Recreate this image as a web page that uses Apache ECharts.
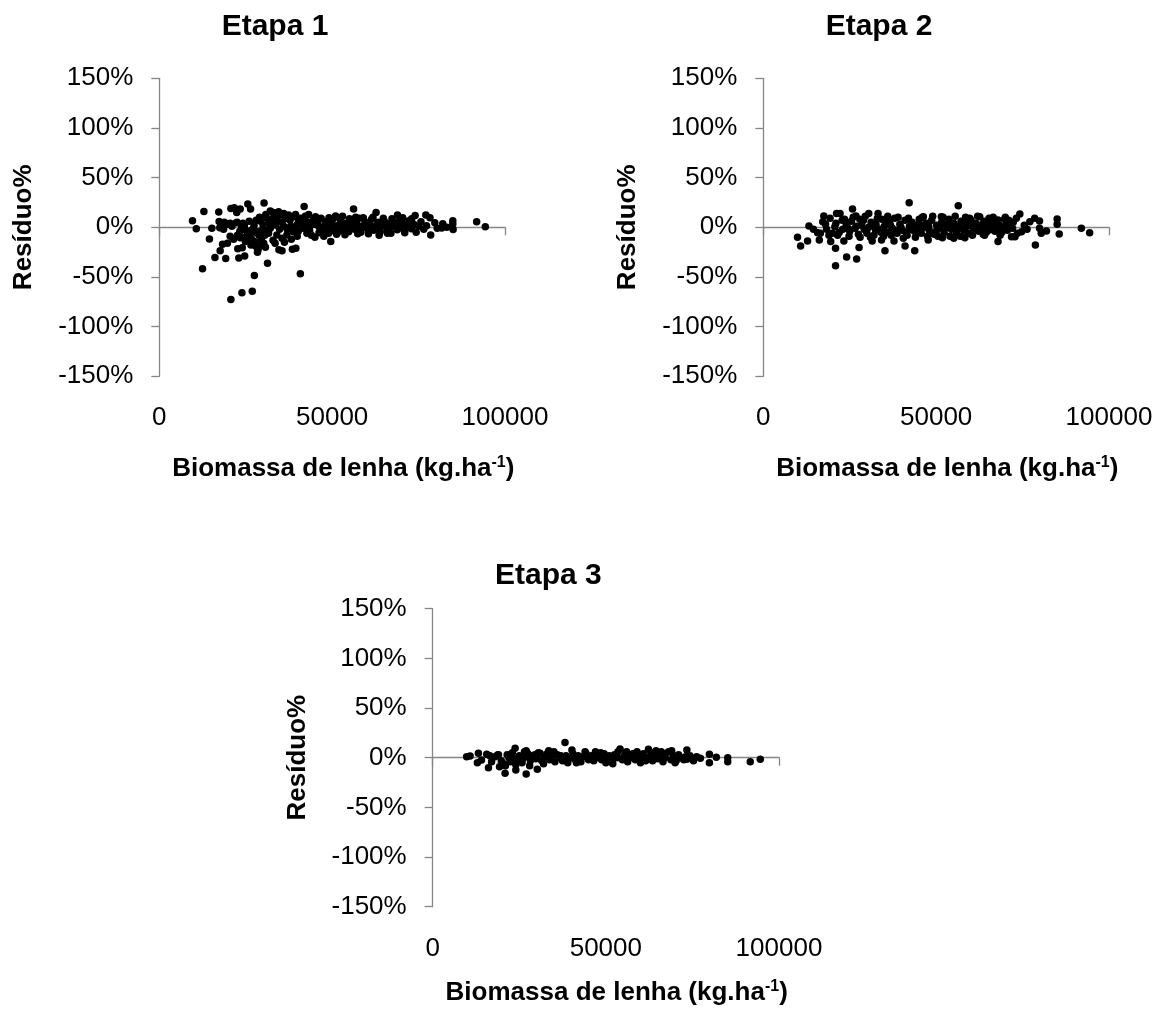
<!DOCTYPE html>
<html><head><meta charset="utf-8">
<script src="https://cdn.jsdelivr.net/npm/echarts@6/dist/echarts.min.js"></script>
<style>html,body{margin:0;padding:0;background:#fff}#c{width:1163px;height:1014px}</style>
</head><body><div id="c"></div>
<script>
var panelTitles = ['Etapa 1', 'Etapa 2', 'Etapa 3'];
var yTickValues = [-150, -100, -50, 0, 50, 100, 150];
var xTickValues = [0, 50000, 100000];
var yName = 'Resíduo%';
var xName = 'Biomassa de lenha (kg.ha{s|-1})';

// [biomassa (kg/ha), resíduo (%)]
var etapa1 = [
[9600,6.5],[10700,-1.5],[12900,16],[12500,-41.7],[14500,-11.8],[15200,-1],[17200,15.5],[17300,5.8],[17500,-0.5],[18300,-17],[17600,-23.5],[16100,-30.3],[19200,-31.5],[18800,5],[19400,3],[20700,19],[20500,-9],[20700,-72.7],[21700,19.6],[22300,4.6],[22400,15],[23400,18.5],[22700,-21.5],[23000,-31],[23900,-66],[24700,-29],[25600,23.5],[26400,18.5],[26900,-64.4],[27500,-48.5],[28400,-25.2],[30300,24.5],[31300,-36.3],[34600,-22.7],[35500,-23.7],[38500,-22],[39500,-21],[40800,-46.7],[41900,21],[49600,-14.4],[56200,18.5],[62700,15],[68900,12.3],[69600,9],[74000,12],[77100,12.5],[78300,9.5],[79700,4.5],[78500,-7.8],[80400,-1],[81700,-0.8],[84900,6.5],[84900,3.2],[85000,-2.2],[91800,5.6],[94300,0.5],
[24400,-10.4],[25500,-7],[26600,-11],[27500,-14.4],[26500,-17.7],[24900,-14.4],[23400,-10.4],[29200,-17.7],[30200,-16],[28400,-4.4],[29200,6.3],[31100,9],[32100,16.3],[33000,15],[34500,15.6],[36000,14],[37400,12.3],[35500,5],[33600,2.3],[32100,-1],[31600,-6],[34000,-7.7],[35500,-11],[36900,-7.7],[38800,-4.4],[39800,2.3],[40800,9],[42700,5.6],[41700,-1],[42700,-6],[22500,5],[24200,4],[26000,6],[28000,7],[25000,-3],[27000,-2],[28800,-8],[26000,-13],[27900,-19],[29500,-12],[30500,-8],[31000,-3],[32900,-13],[33500,-16],[30700,-20],[28600,-22],[24000,-20.5],[21500,-12],[19700,-16],[22600,-8],[23800,0.5],[20500,4],[21000,1],[18600,-2],[27400,2],[30000,2.5],[32800,8],[34000,10],[35000,12.5],[36500,9],[37800,7],[38000,1],[37000,-2],[36200,-15],[38200,-12],[39900,-9],[33200,12],[30800,13],[29000,10],[38900,10.5],[39400,13],[40300,6],[41200,3.5],[43500,-3.5],[43800,2],[44500,7],[45200,10.5],[45800,4],[46500,-2],[47200,-5],[47900,1],[48500,6],[49100,9.5],[50000,3],[50600,-3.5],[51300,-7],[51800,2],[52400,7],[53000,11],[53400,-1],[54100,4],[54800,-4.5],[55300,1.5],[56000,6.5],[56500,-2],[57200,3],[57800,9],[58300,-5],[58900,1],[59500,5.5],[60200,-1.5],[60800,3.5],[61400,8],[62000,-3],[62700,1.5],[63300,5],[63900,-4.5],[64500,2],[65100,6],[65800,-1],[66400,3.5],[67000,-6],[67600,1],[68200,4.5],[68800,-2.5],[69500,0.5],[70100,5],[70800,-3],[71500,2],[72200,6.5],[72900,-1.5],[73600,3],[74300,-5],[75000,1],[75700,5.5],[76500,-2],[77300,1.5],[82000,3.5],[83200,0],[42200,11],[43200,13],[44000,-8],[45000,-10],[46000,1.5],[46800,9],[47600,-9],[48300,-1],[49000,-6],[50300,8.5],[51000,11.5],[52000,-4],[53700,-7.5],[55000,8.5],[56800,10],[57400,-6.5],[59000,9.5],[60500,-6.5],[61800,10],[63600,-8],[64800,9],[66000,-6],[67300,8.5],[70400,9.5],[71000,-5.5],[73000,8.5],[43000,0],[44800,3],[46200,-5.5],[48000,3.5],[49500,0],[51500,1],[53000,3],[54500,-1.5],[56000,0],[58000,0.5],[60000,1],[62200,0],[64000,1],[66500,0],[69000,2],[71800,0],[40200,-4],[39000,-1],[36000,1],[34800,-2],[33800,5.5],[31800,4],[29700,-3],[27900,-5],[26200,-6],[24600,1.5],[23300,-4]
];

var etapa2 = [
[9900,-10],[10800,-18.7],[12800,-13.7],[13200,1.3],[14500,-2],[15700,-5.4],[16200,-12.7],[17200,5.6],[17500,11.3],[18300,-2],[19300,9],[19500,-14.4],[20700,0.6],[20900,-21],[20900,-38.7],[21200,14],[22200,14],[23300,-13.7],[24100,-30],[25800,18.3],[27000,-32],[27700,-20.4],[26800,11.3],[27900,8],[30500,14],[31500,-13.7],[33200,14],[34200,-12.7],[35200,-23.7],[37800,-13.7],[41000,-18.7],[42200,24.6],[43800,-23.7],[47700,-12.7],[46300,10.6],[51800,-10.4],[51500,10.6],[56400,21.6],[55100,-11],[58300,-10.4],[59700,9],[62600,10.6],[63600,-7],[65300,9],[65300,-2.7],[67900,-14.4],[67900,7.3],[70300,4],[71800,-9.4],[72800,-9.4],[73200,9],[74200,13.3],[74700,-4.4],[72100,-1],[77100,5.6],[78500,9],[78700,-17.7],[79900,6.3],[79900,-1],[80400,-6],[81900,-3.7],[85000,8.3],[85000,3],[85600,-6.7],[92000,-1],[94400,-5.4],
[22000,-5],[23000,-2],[24000,3],[25000,-4],[25500,6],[26500,-1],[27500,-7],[28500,2],[29000,7],[29800,-4],[30500,0],[31200,5],[32000,-8],[32600,3],[33500,-2],[34300,8],[35000,1],[35800,-5],[36500,5],[37300,-1],[38000,9],[38700,-6],[39500,3],[40200,-3],[41000,7],[41600,-8],[42300,1],[43000,5],[43700,-4],[44400,2],[45100,8],[45700,-6],[46500,0],[47200,4],[48000,-3],[48700,7],[49400,-7],[50100,2],[50800,-1],[51600,5],[52300,-5],[53000,3],[53700,8],[54400,-2],[55100,4],[55800,-7],[56500,1],[57200,6],[58000,-3],[58700,3],[59400,-6],[60100,7],[60800,-1],[61500,4],[62300,-4],[63000,2],[63800,6],[64500,-5],[65200,3],[66000,-2],[66800,5],[67500,-1],[68300,2],[69000,-5],[69800,8],[70600,-3],[71400,1],[72300,5],[73500,-6],[75500,2],[76300,-2],[23500,8],[24800,-9],[26000,10],[28000,-10],[29500,11],[31000,-10],[33000,9],[34800,-9],[36000,11],[37000,-8],[39000,10],[40500,-11],[42000,9],[44000,-10],[46000,10],[47500,-9],[49000,11],[50500,-9],[52000,10],[54000,-9],[55500,11],[57000,-9],[58500,10],[60500,-8],[62000,11],[64000,-8],[66500,10],[68500,-8],[70000,10],[21500,-8],[22800,7],[30000,-6],[32500,-3],[35500,6],[38300,-3],[41300,-5],[43300,-1],[45300,3],[47800,1],[50000,-4],[53300,0],[56000,-3],[59000,1],[61800,-2],[64800,0],[67000,-4],[20000,-6],[19000,-8],[18000,3],[16500,-6],[21000,4],[24500,-1],[27000,1],[29200,-2],[31800,2],[34000,-5],[36800,2],[39800,0],[42700,-2],[45000,-4],[48300,-6],[51200,0],[54800,2],[57600,-1],[60300,3],[63300,-3],[66200,1],[69300,-1],[71000,7]
];

var etapa3 = [
[9800,1],[10800,1.7],[13200,4.4],[12900,-5],[14100,-2.3],[15600,3.4],[16100,-10],[18700,2.7],[19300,-9],[20900,-15.6],[22200,2.7],[23800,9.4],[24000,-12.3],[27000,-16.3],[26500,6],[30200,-11.6],[31000,4.4],[38200,15.4],[40200,7.7],[54100,8.7],[62300,8.4],[68100,6],[73400,7.7],[77300,-0.6],[79900,3.4],[79900,-5],[81900,0.4],[85200,0],[85200,-4],[91700,-4],[94600,-1.6],[73400,-1.6],
[17000,-4],[18000,1],[19800,-3],[20500,-6],[21500,3],[22500,-4],[23000,5],[24500,-2],[25000,2],[25800,-5],[26800,1],[27500,4],[28200,-3],[29000,2],[29800,-1],[30500,5],[31500,-3],[32300,1],[33000,4],[33800,-2],[34500,2],[35300,-4],[36000,3],[36800,0],[37500,-3],[38500,2],[39300,-1],[40500,4],[41200,-2],[42000,2],[42800,-4],[43500,1],[44300,4],[45000,-2],[45800,2],[46500,-3],[47300,3],[48000,0],[48800,-2],[49500,4],[50300,-1],[51000,2],[51800,-3],[52500,3],[53300,0],[54800,-2],[55500,3],[56300,-4],[57000,1],[57800,4],[58500,-2],[59300,2],[60000,-1],[60800,4],[61500,-3],[62800,1],[63500,-3],[64300,3],[65000,-1],[65800,2],[66500,-4],[67300,4],[68800,-2],[69500,2],[70300,-3],[71000,3],[71800,0],[72500,-2],[74300,2],[75300,-3],[76200,1],[24000,-7],[28000,-8],[21000,-8],[32000,-6],[35000,6],[44000,6],[50000,-5],[56000,6],[60000,-5],[66000,6],[70000,-5],[27000,7],[33500,7],[47000,6],[53500,6],[59000,6],[64500,7],[69000,7],[22000,0],[26000,-1],[30000,0],[34000,0],[38000,-1],[42500,0],[46000,1],[50800,1],[55000,0],[58000,0],[62000,-1],[67000,0],[73000,1],[29500,3],[37000,2],[41500,-5],[48500,5],[52000,-6],[61000,1],[63000,5],[16500,2],[19000,3],[23500,-1],[39000,-5]
];

var datasets = [etapa1, etapa2, etapa3];

var FONT = '"Liberation Sans", Arial, sans-serif';
var AXC = '#868686';
// plot rectangles [left, top, right, bottom]
var rects = [[159.3, 78.3, 505, 376.3], [763.3, 78.3, 1109, 376.3], [432.7, 608.7, 779, 906.7]];
var titleOffsets = [51.8, 51.8, 33];
var nameOffsets = [92.7, 92.7, 86];

var grids = [], xAxes = [], yAxes = [], series = [], graphics = [];
rects.forEach(function (r, i) {
  grids.push({left: r[0], top: r[1], width: r[2] - r[0], height: r[3] - r[1], containLabel: false});
  xAxes.push({
    gridIndex: i, type: 'value', min: xTickValues[0], max: xTickValues[xTickValues.length - 1], interval: 100000,
    axisLine: {show: true, onZero: true, lineStyle: {color: AXC, width: 1.3}},
    axisTick: {show: true, length: 8, lineStyle: {color: AXC, width: 1.3}},
    axisLabel: {show: false}, splitLine: {show: false}
  });
  xAxes.push({
    gridIndex: i, type: 'value', position: 'bottom', min: xTickValues[0], max: xTickValues[xTickValues.length - 1], interval: 50000,
    axisLine: {show: false, onZero: false}, axisTick: {show: false}, splitLine: {show: false},
    axisLabel: {show: true, margin: 29, color: '#000', fontFamily: FONT, fontSize: 26, formatter: function (v) { return String(v); }}
  });
  yAxes.push({
    gridIndex: i, type: 'value', min: yTickValues[0], max: yTickValues[yTickValues.length - 1], interval: 50,
    axisLine: {show: true, lineStyle: {color: AXC, width: 1.3}},
    axisTick: {show: true, length: 8, lineStyle: {color: AXC, width: 1.3}},
    splitLine: {show: false},
    axisLabel: {margin: 26, color: '#000', fontFamily: FONT, fontSize: 26, formatter: function (v) { return v + '%'; }}
  });
  series.push({
    type: 'scatter', xAxisIndex: i * 2, yAxisIndex: i, data: datasets[i],
    symbol: 'circle', symbolSize: 7.5, itemStyle: {color: '#000', opacity: 1}, silent: true
  });
  var cx = r[0] + 115.7;
  graphics.push({type: 'text', x: cx, y: r[1] - titleOffsets[i], style: {text: panelTitles[i], fill: '#000', font: 'bold 30px ' + FONT, textAlign: 'center', textVerticalAlign: 'middle'}});
  graphics.push({type: 'text', x: r[0] + 184, y: r[3] + nameOffsets[i], style: {
    text: xName, fill: '#000', font: 'bold 26px ' + FONT, textAlign: 'center', textVerticalAlign: 'middle',
    rich: {s: {fontSize: 16, fontWeight: 'bold', fontFamily: FONT, fill: '#000', verticalAlign: 'top', padding: [0, 0, 12, 0]}}
  }});
  graphics.push({type: 'text', x: r[0] - 135, y: r[1] + 149, rotation: Math.PI / 2, style: {
    text: yName, fill: '#000', font: 'bold 26px ' + FONT, textAlign: 'center', textVerticalAlign: 'middle'
  }});
});

var chart = echarts.init(document.getElementById('c'), null, {renderer: 'canvas'});
chart.setOption({
  backgroundColor: '#fff', animation: false,
  grid: grids, xAxis: xAxes, yAxis: yAxes, series: series, graphic: graphics
});
</script></body></html>
